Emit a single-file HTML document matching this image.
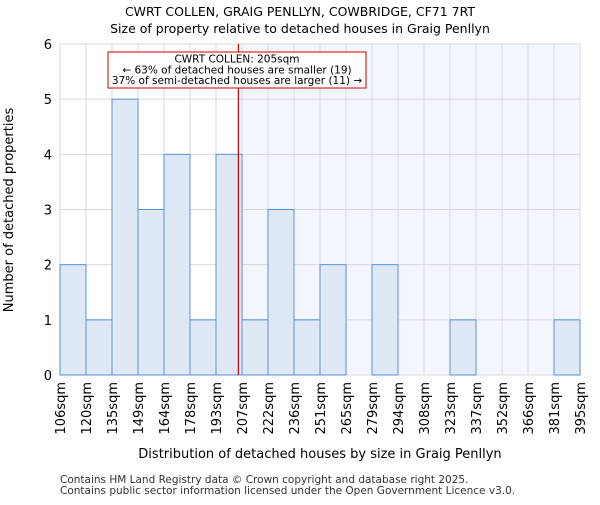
<!DOCTYPE html>
<html><head><meta charset="utf-8"><style>
body{margin:0;background:#fff;font-family:"Liberation Sans","DejaVu Sans",sans-serif;}
</style></head><body>
<svg width="600" height="500" xmlns="http://www.w3.org/2000/svg" font-family="DejaVu Sans, Liberation Sans, sans-serif">
<text x="300" y="16" text-anchor="middle" font-size="12.5">CWRT COLLEN, GRAIG PENLLYN, COWBRIDGE, CF71 7RT</text>
<text x="300" y="33" text-anchor="middle" font-size="12.5">Size of property relative to detached houses in Graig Penllyn</text>
<g id="plot"></g>
<text x="13" y="210" text-anchor="middle" font-size="13" transform="rotate(-90 13 210)">Number of detached properties</text>
<text x="320" y="458" text-anchor="middle" font-size="13">Distribution of detached houses by size in Graig Penllyn</text>
<text x="60" y="483" font-size="10.5" fill="#333">Contains HM Land Registry data © Crown copyright and database right 2025.</text>
<text x="60" y="494" font-size="10.5" fill="#333">Contains public sector information licensed under the Open Government Licence v3.0.</text>
</svg>
<script>
const binLabels=["106sqm","120sqm","135sqm","149sqm","164sqm","178sqm","193sqm","207sqm","222sqm","236sqm","251sqm","265sqm","279sqm","294sqm","308sqm","323sqm","337sqm","352sqm","366sqm","381sqm","395sqm"];
const counts=[2,1,5,3,4,1,4,1,3,1,2,0,2,0,0,1,0,0,0,1];
const yTicks=[0,1,2,3,4,5,6];
const markerIndex=6.86;
const NS="http://www.w3.org/2000/svg";
const L=60,R=580,T=44,B=375,yMax=6;
const bw=(R-L)/counts.length;
const x=i=>L+i*bw;
const y=v=>B-(v/yMax)*(B-T);
const g=document.getElementById('plot');
function mk(t,a){const e=document.createElementNS(NS,t);for(const k in a)e.setAttribute(k,a[k]);g.appendChild(e);return e;}
const mx=x(markerIndex);
let e=mk('rect',{x:mx,y:T,width:R-mx,height:B-T,fill:'#f3f6fd'});


for(let i=0;i<=counts.length;i++){e=mk('line',{x1:x(i),x2:x(i),y1:T,y2:B,stroke:'#d9d9d9','stroke-width':1});

}
yTicks.forEach(v=>{e=mk('line',{x1:L,x2:R,y1:y(v),y2:y(v),stroke:'#d9d9d9','stroke-width':1});


const t=mk('text',{x:L-8,y:y(v)+5,'text-anchor':'end','font-size':13});t.textContent=v;

});
counts.forEach((c,i)=>{if(c<=0)return;e=mk('rect',{x:x(i),y:y(c),width:bw,height:B-y(c),fill:'#dfe8f5',stroke:'#5b8fd6','stroke-width':1});

});
binLabels.forEach((l,i)=>{const t=mk('text',{x:0,y:0,'font-size':13,'text-anchor':'end',transform:`translate(${x(i)+5},${B+7}) rotate(-90)`});t.textContent=l;

});
e=mk('line',{x1:mx,x2:mx,y1:T,y2:B,stroke:'#cc0000','stroke-width':1.2});


e=mk('rect',{x:108,y:52,width:258,height:36,fill:'#fff',stroke:'#cc0000','stroke-width':1});


["CWRT COLLEN: 205sqm","← 63% of detached houses are smaller (19)","37% of semi-detached houses are larger (11) →"].forEach((s,i)=>{const t=mk('text',{x:237,y:62.5+i*10.8,'text-anchor':'middle','font-size':10.5});t.textContent=s;

});
</script>
</body></html>
